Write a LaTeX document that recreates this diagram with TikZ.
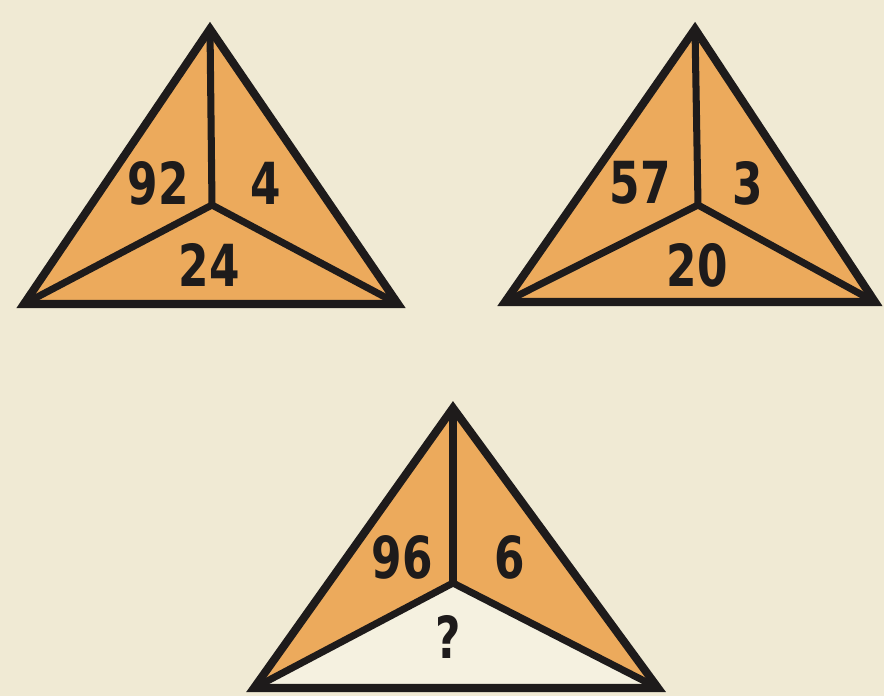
\documentclass[tikz,border=0pt]{standalone}
\usepackage{fontspec}
\setmainfont{Liberation Sans}
\newfontfamily\puzfont{DejaVu Sans Condensed}
\definecolor{puzBack}{RGB}{240,234,212}
\definecolor{puzOrange}{RGB}{236,170,92}
\definecolor{puzPale}{RGB}{245,241,224}
\definecolor{puzInk}{RGB}{30,27,27}
\tikzset{
  puzedge/.style={draw=puzInk,line width=4.6pt,line join=miter},
  puzspoke/.style={draw=puzInk,line width=4pt},
  puzfill/.style={fill=puzOrange},
  puzpale/.style={fill=puzPale},
  puznum/.style={font=\puzfont\bfseries\fontsize{33}{35}\selectfont,text=puzInk,inner sep=0pt,xscale=0.84},
}
\newcommand{\PuzzleFrame}[2]{%
  \fill[puzfill] (#1top) -- (#1left) -- (#1mid) -- cycle;%
  \fill[puzfill] (#1top) -- (#1mid) -- (#1right) -- cycle;%
  \fill[#2] (#1left) -- (#1right) -- (#1mid) -- cycle;%
  \draw[puzspoke] (#1mid) -- (#1top);%
  \draw[puzspoke] (#1mid) -- (#1left);%
  \draw[puzspoke] (#1mid) -- (#1right);%
  \draw[puzedge] (#1top) -- (#1left) -- (#1right) -- cycle;%
}
\begin{document}
\begin{tikzpicture}[x=0.02cm,y=-0.02cm]
\fill[puzBack] (0,0) rectangle (884,696);
\useasboundingbox (0,0) rectangle (884,696);

% First puzzle.
\coordinate (atop) at (210,29);
\coordinate (aleft) at (24,304);
\coordinate (aright) at (398,304);
\coordinate (amid) at (212,205);
\PuzzleFrame{a}{puzfill}
\node[puznum] (aone) at (158,183) {92};
\node[puznum] (atwo) at (266,183) {4};
\node[puznum] (athree) at (209,265) {24};

% Second puzzle.
\coordinate (btop) at (695,29);
\coordinate (bleft) at (505,302);
\coordinate (bright) at (875,302);
\coordinate (bmid) at (698,205);
\PuzzleFrame{b}{puzfill}
\node[puznum] (bone) at (640,183) {57};
\node[puznum] (btwo) at (748,183) {3};
\node[puznum] (bthree) at (697,265) {20};

% Third puzzle, bottom face unknown.
\coordinate (ctop) at (453,408);
\coordinate (cleft) at (254,688);
\coordinate (cright) at (658,688);
\coordinate (cmid) at (453,583);
\PuzzleFrame{c}{puzpale}
\node[puznum] (cone) at (402,557) {96};
\node[puznum] (ctwo) at (510,557) {6};
\node[puznum] (cthree) at (448,637) {?};
\end{tikzpicture}
\end{document}
